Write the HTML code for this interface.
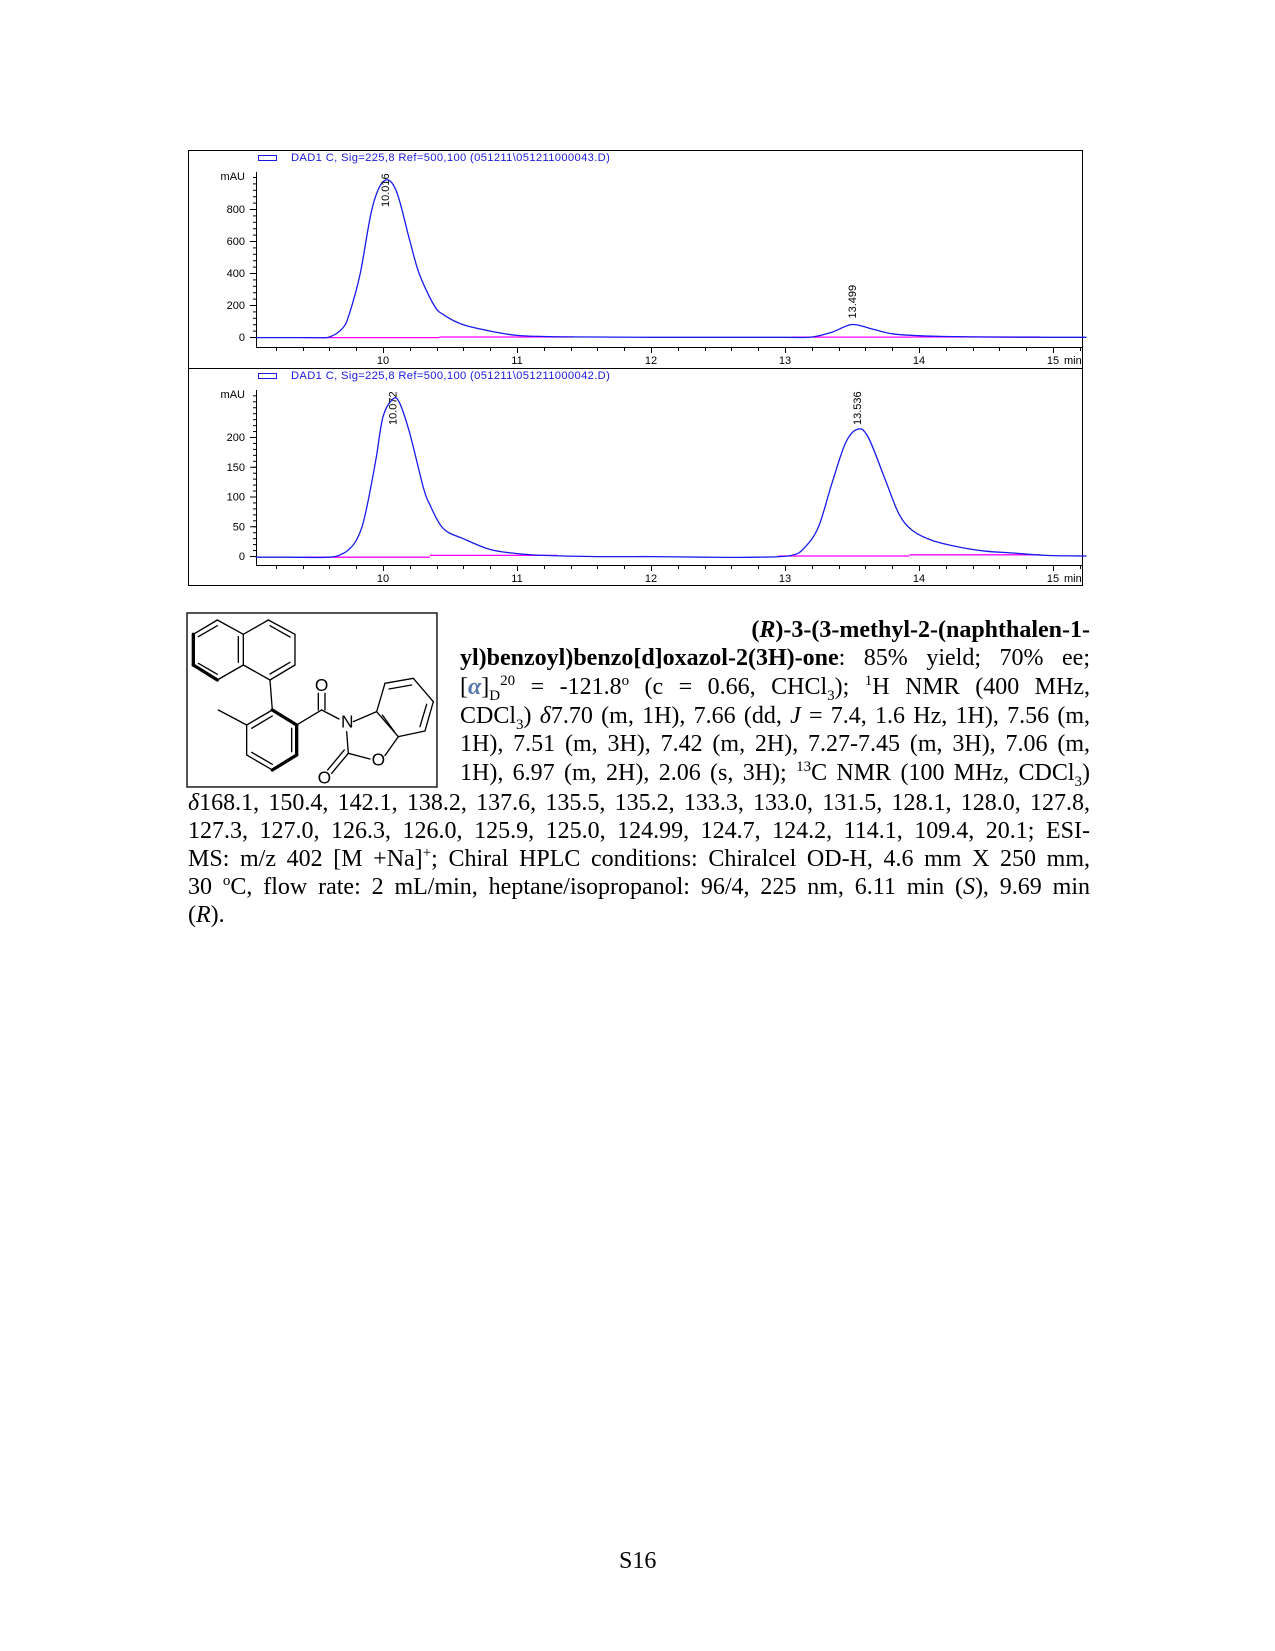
<!DOCTYPE html>
<html><head><meta charset="utf-8">
<style>
html,body{margin:0;padding:0;background:#fff}
#page{position:relative;width:1275px;height:1651px;overflow:hidden;background:#fff}
svg{position:absolute;left:0;top:0}
.jl{position:absolute;white-space:nowrap;font-family:"Liberation Serif",serif;font-size:24px;line-height:24px;color:#000}
.ax{font-family:"Liberation Sans",sans-serif;font-size:11px;fill:#000}
.lg{font-family:"Liberation Sans",sans-serif;font-size:11.2px;fill:#1a1adc;letter-spacing:0.35px}
sup,sub{font-size:15px;line-height:0}
</style></head><body>
<div id="page">
<svg id="chart" width="1275" height="1651"></svg>

<div class="jl" style="left:460px;top:618px;width:630px;text-align:right"><b>(<i>R</i>)-3-(3-methyl-2-(naphthalen-1-</b></div>
<div class="jl j" style="left:460px;top:646px;width:630px"><span><b>yl)benzoyl)benzo[d]oxazol-2(3H)-one</b>: 85% yield; 70% ee;</span></div>
<div class="jl j" style="left:460px;top:675px;width:630px"><span>[<b><i style="color:#5577aa">α</i></b>]<sub>D</sub><sup>20</sup> = -121.8<sup>o</sup> (c = 0.66, CHCl<sub>3</sub>); <sup>1</sup>H NMR (400 MHz,</span></div>
<div class="jl j" style="left:460px;top:704px;width:630px"><span>CDCl<sub>3</sub>) <i>δ</i>7.70 (m, 1H), 7.66 (dd, <i>J</i> = 7.4, 1.6 Hz, 1H), 7.56 (m,</span></div>
<div class="jl j" style="left:460px;top:732px;width:630px"><span>1H), 7.51 (m, 3H), 7.42 (m, 2H), 7.27-7.45 (m, 3H), 7.06 (m,</span></div>
<div class="jl j" style="left:460px;top:761px;width:630px"><span>1H), 6.97 (m, 2H), 2.06 (s, 3H); <sup>13</sup>C NMR (100 MHz, CDCl<sub>3</sub>)</span></div>
<div class="jl j" style="left:188px;top:791px;width:902px"><span><i>δ</i>168.1, 150.4, 142.1, 138.2, 137.6, 135.5, 135.2, 133.3, 133.0, 131.5, 128.1, 128.0, 127.8,</span></div>
<div class="jl j" style="left:188px;top:819px;width:902px"><span>127.3, 127.0, 126.3, 126.0, 125.9, 125.0, 124.99, 124.7, 124.2, 114.1, 109.4, 20.1; ESI-</span></div>
<div class="jl j" style="left:188px;top:847px;width:902px"><span>MS: m/z 402 [M +Na]<sup>+</sup>; Chiral HPLC conditions: Chiralcel OD-H, 4.6 mm X 250 mm,</span></div>
<div class="jl j" style="left:188px;top:875px;width:902px"><span>30 <sup>o</sup>C, flow rate: 2 mL/min, heptane/isopropanol: 96/4, 225 nm, 6.11 min (<i>S</i>), 9.69 min</span></div>
<div class="jl" style="left:188px;top:903px">(<i>R</i>).</div>
<div class="jl" style="left:619px;top:1549px">S16</div>
</div>
<script>
// ---------- chart data ----------
const timesTop = [9.05,9.3,9.5,9.6,9.7,9.75,9.83,9.92,10.01,10.1,10.2,10.27,10.38,10.45,10.6,10.85,11.0,11.2,11.6,12.0,12.5,13.0,13.2,13.35,13.5,13.65,13.8,14.0,14.2,14.5,15.0,15.25];
const valuesTop = [-4,-4,-4,0,56,148,396,808,977,911,602,396,200,140,76,29,10,3,0,-2,-2,-2,0,30,78,50,20,8,3,0,-2,-2];
const timesBot = [9.05,9.3,9.6,9.7,9.75,9.8,9.85,9.9,9.95,10.0,10.07,10.12,10.2,10.3,10.35,10.45,10.6,10.8,11.0,11.2,11.6,12.0,12.4,12.8,13.05,13.15,13.25,13.35,13.45,13.54,13.62,13.75,13.85,13.95,14.1,14.3,14.5,14.7,14.95,15.25];
const valuesBot = [-2,-2,-2,4,12,26,54,105,166,234,263,259,206,116,86,46,29,11,4,1,-1,-1,-2,-2,1,15,49,122,189,213,200,127,71,43,26,15,8,5,1,0];
const peakLabelsTop = ["10.016","13.499"];
const peakTimesTop = [10.016,13.499];
const peakValsTop = [977,78];
const peakLabelsBot = ["10.072","13.536"];
const peakTimesBot = [10.072,13.536];
const peakValsBot = [263,213];
const baseTopStart = [9.4,10.42,13.05,13.95];
const baseTopEnd = [10.42,11.42,13.95,14.9];
const baseTopVal = [-4,0,-1,0];
const baseBotStart = [9.4,10.35,12.95,13.93];
const baseBotEnd = [10.35,11.3,13.93,14.9];
const baseBotVal = [-2,1,0,2];
const xTickLabels = ["10","11","12","13","14","15"];
const yTickTop = [0,200,400,600,800];
const yTickBot = [0,50,100,150,200];

const NS="http://www.w3.org/2000/svg";
const svg=document.getElementById('chart');
function mk(tag,attrs,parent){const e=document.createElementNS(NS,tag);for(const k in attrs)e.setAttribute(k,attrs[k]);(parent||svg).appendChild(e);return e;}
function xScale(t){return 383+(t-10)*134;}
function smoothPath(pts){let d='M'+pts[0][0].toFixed(1)+','+pts[0][1].toFixed(1);
 for(let i=0;i<pts.length-1;i++){const p0=pts[Math.max(0,i-1)],p1=pts[i],p2=pts[i+1],p3=pts[Math.min(pts.length-1,i+2)];
 const c1x=p1[0]+(p2[0]-p0[0])/6,c1y=p1[1]+(p2[1]-p0[1])/6,c2x=p2[0]-(p3[0]-p1[0])/6,c2y=p2[1]-(p3[1]-p1[1])/6;
 d+=' C'+c1x.toFixed(1)+','+c1y.toFixed(1)+' '+c2x.toFixed(1)+','+c2y.toFixed(1)+' '+p2[0].toFixed(1)+','+p2[1].toFixed(1);}return d;}

function drawPanel(o){
 const g=mk('g',{});
 
 
 const yS=v=>o.y0-v*o.k;
 const frame=mk('rect',{x:188.5,y:o.top+0.5,width:894,height:o.h,fill:'none',stroke:'#000','stroke-width':1},g);
 
 
 const li=mk('rect',{x:258.5,y:o.top+5.5,width:18,height:5,fill:'none',stroke:'#1a1adc','stroke-width':1},g);
 
 
 const lt=mk('text',{x:291,y:o.top+11,class:'lg'},g);lt.textContent=o.legend;
 
 
 const ya=mk('line',{x1:256.5,y1:o.axTop,x2:256.5,y2:o.axY,stroke:'#000'},g);
 
 
 for(let v=0;yS(v)>=o.axTop;v+=o.minor){const t=mk('line',{x1:253,y1:yS(v)+0.5,x2:256.5,y2:yS(v)+0.5,stroke:'#000'},g);
  
  }
 o.yt.forEach(v=>{const t=mk('line',{x1:250,y1:yS(v)+0.5,x2:256.5,y2:yS(v)+0.5,stroke:'#000'},g);
  
  
  const l=mk('text',{x:245,y:yS(v)+4,class:'ax','text-anchor':'end'},g);l.textContent=v;
  
  });
 const mau=mk('text',{x:245,y:o.axTop+8,class:'ax','text-anchor':'end'},g);mau.textContent='mAU';
 
 
 const xa=mk('line',{x1:256,y1:o.axY+0.5,x2:1083,y2:o.axY+0.5,stroke:'#000'},g);
 
 
 for(let i=0;;i++){const t=9.2+i*0.2;const x=xScale(t);if(x>1083)break;
  const major=Math.abs(t-Math.round(t))<0.01;
  const tk=mk('line',{x1:Math.round(x)+0.5,y1:o.axY,x2:Math.round(x)+0.5,y2:o.axY+(major?6:4),stroke:'#000'},g);
  
  }
 xTickLabels.forEach(s=>{const l=mk('text',{x:xScale(+s),y:o.axY+17,class:'ax','text-anchor':'middle'},g);l.textContent=s;
  
  });
 const mn=mk('text',{x:1064,y:o.axY+17,class:'ax'},g);mn.textContent='min';
 
 
 o.bs.forEach((s,i)=>{const b=mk('line',{x1:xScale(s),y1:yS(o.bv[i]),x2:xScale(o.be[i]),y2:yS(o.bv[i]),stroke:'#ff00ff','stroke-width':1.3},g);
  
  });
 const pts=o.ts.map((t,i)=>[xScale(t),yS(o.vs[i])]);
 const p=mk('path',{d:smoothPath(pts),fill:'none',stroke:'#1a1aee','stroke-width':1.3},g);
 
 
 o.pl.forEach((s,i)=>{const x=xScale(o.pt[i])+4,y=Math.max(yS(o.pv[i])-6,o.axTop+35);
  const l=mk('text',{x:x,y:y,class:'ax',transform:'rotate(-90 '+x+' '+y+')','font-size':'10.5'},g);l.textContent=s;
  
  });
}
drawPanel({name:'chromatogram-top',top:150,h:218,axTop:172,axY:347,y0:337,k:0.16,minor:40,yt:yTickTop,
 legend:'DAD1 C, Sig=225,8 Ref=500,100 (051211\\051211000043.D)',ts:timesTop,vs:valuesTop,
 pl:peakLabelsTop,pt:peakTimesTop,pv:peakValsTop,bs:baseTopStart,be:baseTopEnd,bv:baseTopVal});
drawPanel({name:'chromatogram-bottom',top:368,h:217,axTop:390,axY:565,y0:556,k:0.595,minor:10,yt:yTickBot,
 legend:'DAD1 C, Sig=225,8 Ref=500,100 (051211\\051211000042.D)',ts:timesBot,vs:valuesBot,
 pl:peakLabelsBot,pt:peakTimesBot,pv:peakValsBot,bs:baseBotStart,be:baseBotEnd,bv:baseBotVal});

// ---------- molecule ----------
const mol=mk('g',{transform:'translate(185,605) scale(0.3333)',stroke:'#000','stroke-width':4.5,fill:'none','stroke-linecap':'round'});


const box=mk('rect',{x:6,y:24,width:750,height:522,stroke:'#000','stroke-width':4,fill:'none'},mol);


const bonds=[
 [25,88,25,180,10],[25,88,97,45,4],[97,45,175,88,4],[175,88,175,180,4],[175,180,97,225,4],[97,225,25,180,10],
 [40,95,97,62,4],[97,208,40,175,4],[160,95,160,172,4],
 [175,88,250,45,4],[250,45,330,88,4],[330,88,330,180,4],[330,180,255,225,4],[255,225,175,180,4],
 [255,62,315,96,4],[315,172,255,207,4],
 [255,225,262,315,4],[262,315,335,360,10],[335,360,335,450,10],[335,450,262,495,10],[262,495,185,450,4],[185,450,185,360,4],[185,360,262,315,4],
 [200,370,262,333,4],[320,370,320,440,4],[262,478,200,442,4],
 [185,360,100,315,4],[335,360,410,315,4],[400,315,400,265,4],[420,315,420,265,4],[410,315,462,342,4],
 [505,350,575,320,4],[485,380,490,445,4],[490,445,555,462,4],[600,452,640,395,4],[575,320,640,395,4],
 [575,320,600,235,4],[600,235,685,220,4],[685,220,745,290,4],[745,290,720,378,4],[720,378,640,395,4],
 [612,252,680,240,4],[725,298,705,365,4],[592,330,628,380,4],
 [490,445,440,505,4],[478,435,428,495,4]];
bonds.forEach(b=>{const l=mk('line',{x1:b[0],y1:b[1],x2:b[2],y2:b[3],'stroke-width':b[4]},mol);
 
 });
[['O',410,258],['N',487,368],['O',580,482],['O',418,535]].forEach(a=>{
 const t=mk('text',{x:a[1],y:a[2],'text-anchor':'middle','font-family':'Liberation Sans, sans-serif','font-size':'52',fill:'#000',stroke:'none'},mol);
 t.textContent=a[0];
 
 });

// ---------- justify text lines ----------
document.querySelectorAll('.jl.j').forEach(d=>{
 const s=d.firstElementChild;const target=parseFloat(d.style.width);
 const w=s.getBoundingClientRect().width;
 const n=(s.textContent.match(/ /g)||[]).length;
 if(w<=target){d.style.wordSpacing=((target-w)/n)+'px';}
 else{s.style.display='inline-block';s.style.transformOrigin='0 0';s.style.transform='scaleX('+(target/w)+')';}
});
</script>
</body></html>
